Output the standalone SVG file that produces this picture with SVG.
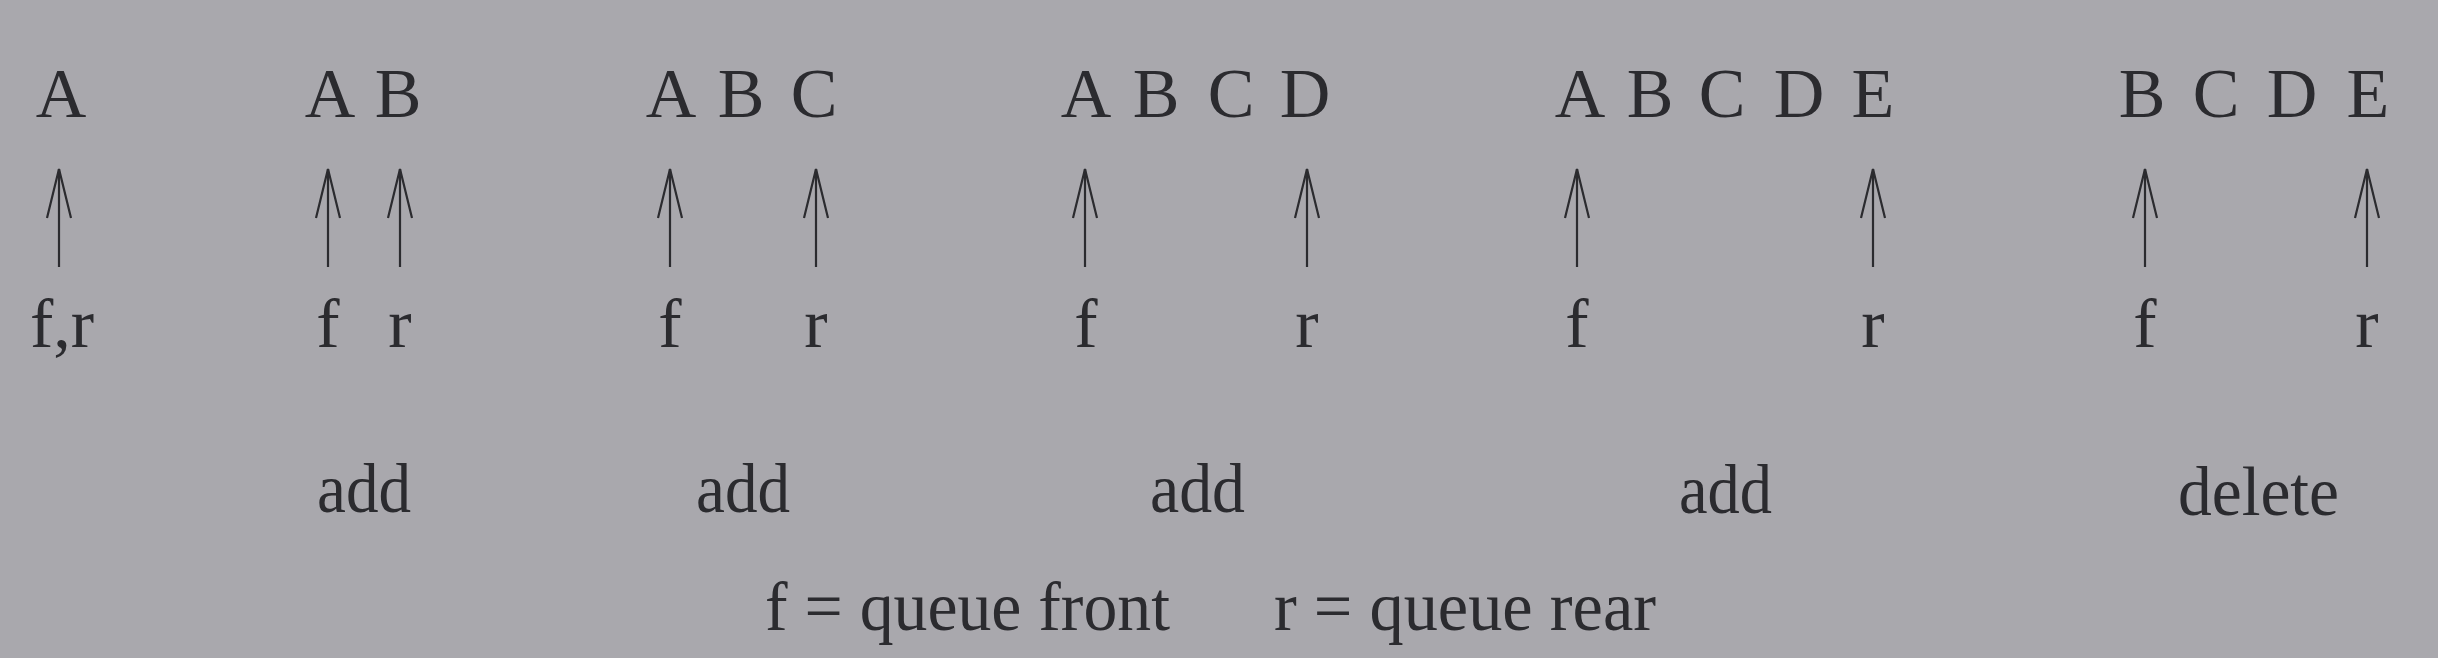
<svg xmlns="http://www.w3.org/2000/svg" width="2438" height="658" viewBox="0 0 2438 658">
<style>
text{font-family:"Liberation Serif","Times New Roman",serif;font-size:70px;fill:#2b2b2f}
.c{text-anchor:middle}
.arr{stroke:#2b2b2f;stroke-width:2.2;fill:none;marker-end:url(#head)}
</style>
<defs>
<marker id="head" markerUnits="userSpaceOnUse" viewBox="-50 -14 52 28" markerWidth="52" markerHeight="28" refX="0" refY="0" orient="auto" overflow="visible">
<path d="M-49,-12 L0,0 L-49,12" fill="none" stroke="#2b2b2f" stroke-width="2.2"/>
</marker>
</defs>
<rect width="2438" height="658" fill="#a9a8ad"/>
<g id="state1">
<text class="c" x="61" y="117">A</text>
<text class="c" x="62" y="347">f,r</text>
</g>
<g id="state2">
<text class="c" x="330" y="117">A</text><text class="c" x="398" y="117">B</text>
<text class="c" x="328" y="347">f</text><text class="c" x="400" y="347">r</text>
<text x="317" y="512" textLength="94" lengthAdjust="spacingAndGlyphs">add</text>
</g>
<g id="state3">
<text class="c" x="671" y="117">A</text><text class="c" x="741" y="117">B</text><text class="c" x="814" y="117">C</text>
<text class="c" x="670" y="347">f</text><text class="c" x="816" y="347">r</text>
<text x="696" y="512" textLength="94" lengthAdjust="spacingAndGlyphs">add</text>
</g>
<g id="state4">
<text class="c" x="1086" y="117">A</text><text class="c" x="1156" y="117">B</text><text class="c" x="1231" y="117">C</text><text class="c" x="1305" y="117">D</text>
<text class="c" x="1086" y="347">f</text><text class="c" x="1307" y="347">r</text>
<text x="1150" y="512" textLength="95" lengthAdjust="spacingAndGlyphs">add</text>
</g>
<g id="state5">
<text class="c" x="1580" y="117">A</text><text class="c" x="1650" y="117">B</text><text class="c" x="1722" y="117">C</text><text class="c" x="1799" y="117">D</text><text class="c" x="1873" y="117">E</text>
<text class="c" x="1577" y="347">f</text><text class="c" x="1873" y="347">r</text>
<text x="1679" y="513" textLength="93" lengthAdjust="spacingAndGlyphs">add</text>
</g>
<g id="state6">
<text class="c" x="2142" y="117">B</text><text class="c" x="2216" y="117">C</text><text class="c" x="2292" y="117">D</text><text class="c" x="2368" y="117">E</text>
<text class="c" x="2145" y="347">f</text><text class="c" x="2367" y="347">r</text>
<text x="2178" y="515" textLength="161" lengthAdjust="spacingAndGlyphs">delete</text>
</g>
<g id="legend">
<text x="765" y="630" textLength="405" lengthAdjust="spacingAndGlyphs">f = queue front</text>
<text x="1274" y="630" textLength="382" lengthAdjust="spacingAndGlyphs">r = queue rear</text>
</g>
<g id="connectors">
<line class="arr" x1="59" y1="267" x2="59" y2="169"/>
<line class="arr" x1="328" y1="267" x2="328" y2="169"/>
<line class="arr" x1="400" y1="267" x2="400" y2="169"/>
<line class="arr" x1="670" y1="267" x2="670" y2="169"/>
<line class="arr" x1="816" y1="267" x2="816" y2="169"/>
<line class="arr" x1="1085" y1="267" x2="1085" y2="169"/>
<line class="arr" x1="1307" y1="267" x2="1307" y2="169"/>
<line class="arr" x1="1577" y1="267" x2="1577" y2="169"/>
<line class="arr" x1="1873" y1="267" x2="1873" y2="169"/>
<line class="arr" x1="2145" y1="267" x2="2145" y2="169"/>
<line class="arr" x1="2367" y1="267" x2="2367" y2="169"/>
</g>
</svg>
